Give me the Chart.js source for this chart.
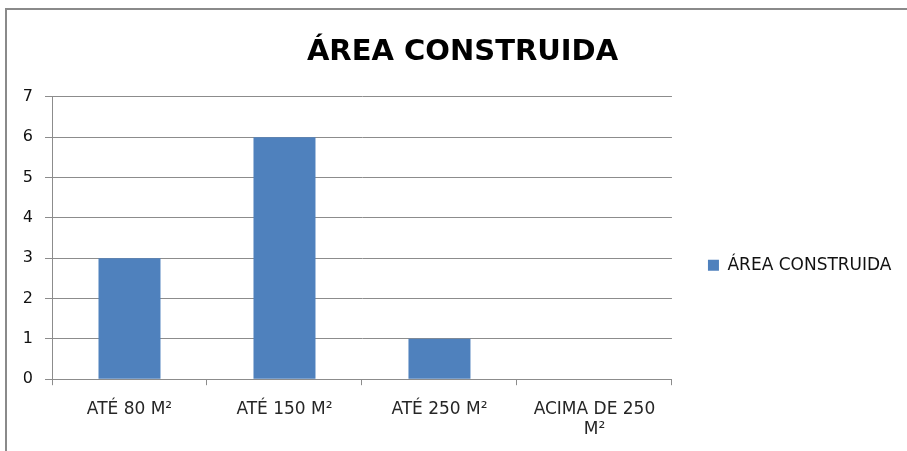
<!DOCTYPE html>
<html>
<head>
<meta charset="utf-8">
<script src="https://cdn.jsdelivr.net/npm/chart.js@4.4.1/dist/chart.umd.min.js"></script>
<style>
  html, body { margin: 0; padding: 0; background: #fff; }
  #wrap { position: relative; width: 907px; height: 451px; overflow: hidden; }
  #frame { position: absolute; left: 5px; top: 8px; width: 940px; height: 480px;
           border-left: 2px solid #8a8a8a; border-top: 2px solid #8a8a8a; }
  #c { position: absolute; left: 0; top: 0; }
</style>
</head>
<body>
<div id="wrap">
  <div id="frame"></div>
  <canvas id="c" width="907" height="451"></canvas>
</div>
<script>
const categories = ['ATÉ 80 M²', 'ATÉ 150 M²', 'ATÉ 250 M²', ['ACIMA DE 250', 'M²']];
const areaValues = [3, 6, 1, 0];
const seriesName = 'ÁREA CONSTRUIDA';
const yTicks = [0, 1, 2, 3, 4, 5, 6, 7];

const gridColor = '#8c8c8c';
const font = "'DejaVu Sans', sans-serif";

new Chart(document.getElementById('c'), {
  type: 'bar',
  data: {
    labels: categories,
    datasets: [{
      label: seriesName,
      data: areaValues,
      backgroundColor: '#4f81bd',
      borderWidth: 0,
      categoryPercentage: 1,
      barPercentage: 0.4
    }]
  },
  options: {
    responsive: false,
    animation: false,
    layout: { padding: { left: 23.5, right: 5.5, top: 0, bottom: -3 } },
    plugins: {
      title: {
        display: true,
        text: seriesName,
        color: '#000',
        font: { family: font, size: 29, weight: 'bold' },
        padding: { top: 35, bottom: 27 }
      },
      legend: {
        position: 'right',
        maxWidth: 300,
        title: { display: true, text: ' ', font: { size: 12 }, padding: { top: 62, bottom: 0 } },
        labels: {
          color: '#111',
          font: { family: font, size: 17 },
          boxWidth: 11,
          boxHeight: 11,
          padding: 36
        }
      },
      tooltip: { enabled: false }
    },
    scales: {
      y: {
        min: 0,
        max: 7,
        afterBuildTicks: s => { s.ticks = yTicks.map(v => ({ value: v })); },
        afterFit: s => { s.width = 28.5; },
        grid: { color: gridColor, tickLength: 7 },
        border: { color: gridColor },
        ticks: { color: '#111', font: { family: font, size: 16 }, padding: 12 }
      },
      x: {
        grid: { color: gridColor, drawOnChartArea: false, tickLength: 6, offset: true },
        border: { color: gridColor },
        ticks: { color: '#262626', font: { family: font, size: 17 }, maxRotation: 0, padding: 14 }
      }
    }
  }
});
</script>
</body>
</html>
